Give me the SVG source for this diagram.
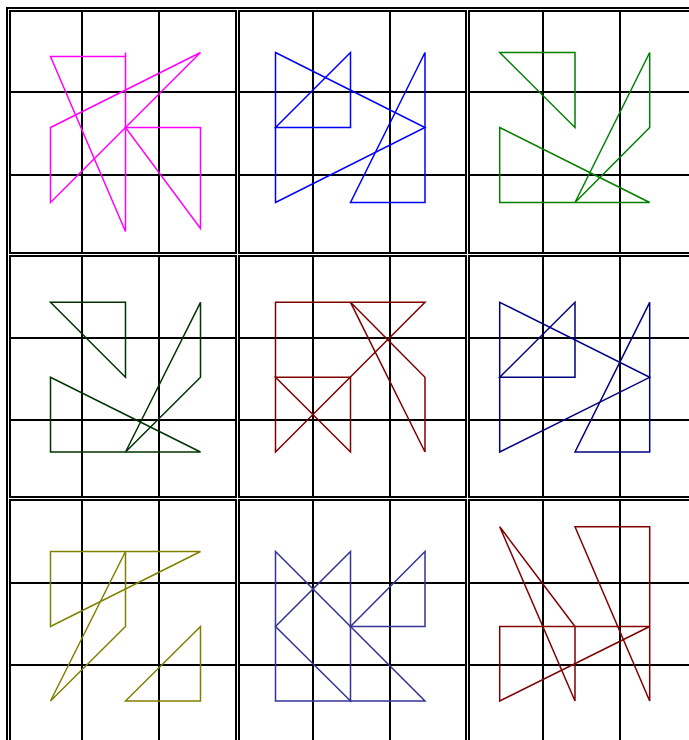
<svg xmlns="http://www.w3.org/2000/svg" width="689" height="740" viewBox="0 0 689 740">
<style>
.g{fill:none;stroke:#000;stroke-width:2}
.s{fill:none;stroke-width:1.5;stroke-linejoin:miter}
</style>
<rect width="689" height="740" fill="#fff"/>
<g id="frame" class="g">
<line x1="7" y1="7" x2="7" y2="740"/>
<line x1="6" y1="8" x2="689" y2="8"/>
</g>
<g id="grids" class="g">
<!-- row A -->
<rect x="10" y="11" width="226" height="242"/>
<path d="M82,11V253M159,11V253M10,92H236M10,175H236"/>
<rect x="239" y="11" width="227" height="242"/>
<path d="M313,11V253M390,11V253M239,92H466M239,175H466"/>
<rect x="469" y="11" width="227" height="242"/>
<path d="M543,11V253M620,11V253M469,92H696M469,175H696"/>
<!-- row B -->
<rect x="10" y="256" width="226" height="241"/>
<path d="M82,256V497M159,256V497M10,338H236M10,420H236"/>
<rect x="239" y="256" width="227" height="241"/>
<path d="M313,256V497M390,256V497M239,338H466M239,420H466"/>
<rect x="469" y="256" width="227" height="241"/>
<path d="M543,256V497M620,256V497M469,338H696M469,420H696"/>
<!-- row C -->
<rect x="10" y="500" width="226" height="243"/>
<path d="M82,500V743M159,500V743M10,583H236M10,665H236"/>
<rect x="239" y="500" width="227" height="243"/>
<path d="M313,500V743M390,500V743M239,583H466M239,665H466"/>
<rect x="469" y="500" width="227" height="243"/>
<path d="M543,500V743M620,500V743M469,583H696M469,665H696"/>
</g>
<g id="cell-1-1" class="s" stroke="#ff00ff">
<path d="M125.5,52.5V231.5L50.5,56.5H125.5"/>
<path d="M50.5,127.5L200.5,52.5L50.5,202.5Z"/>
<path d="M125.5,127.5H200.5V228.5Z"/>
</g>
<g id="cell-1-2" class="s" stroke="#0000ff">
<path d="M275.5,127.5L350.5,52.5V127.5Z"/>
<path d="M275.5,52.5L425,127.5L275.5,202.5Z"/>
<path d="M425,52.5L350.5,202.5H425Z"/>
</g>
<g id="cell-1-3" class="s" stroke="#008000">
<path d="M499.7,52.5H575V127.5Z"/>
<path d="M499.7,127.5V202.5H649.7Z"/>
<path d="M575,202.5L649.7,52.5V127.5Z"/>
</g>
<g id="cell-2-1" class="s" stroke="#003300">
<path d="M50.5,302.3H125.5V377.3Z"/>
<path d="M50.5,377.3V452H200.5Z"/>
<path d="M125.5,452L200.5,302.3V377.3Z"/>
</g>
<g id="cell-2-2" class="s" stroke="#800000">
<path d="M275.5,452L425,302.3H275.5Z"/>
<path d="M275.5,377.3H350.5V452Z"/>
<path d="M350.5,302.3L425,377.3V452Z"/>
</g>
<g id="cell-2-3" class="s" stroke="#000080">
<path d="M499.7,377.3L575,302.3V377.3Z"/>
<path d="M499.7,302.3L649.7,377.3L499.7,452Z"/>
<path d="M649.7,302.3L575,452H649.7Z"/>
</g>
<g id="cell-3-1" class="s" stroke="#808000">
<path d="M50.5,551.5H200.5L50.5,626.5Z"/>
<path d="M125.5,551.5V626.5L50.5,701Z"/>
<path d="M125.5,701L200.5,626.5V701Z"/>
</g>
<g id="cell-3-2" class="s" stroke="#333399">
<path d="M275.5,551.5V701H425Z"/>
<path d="M350.5,551.5L275.5,626.5L350.5,701Z"/>
<path d="M425,551.5L350.5,626.5H425Z"/>
</g>
<g id="cell-3-3" class="s" stroke="#800000">
<path d="M499.7,526.7L575,626.5V701Z"/>
<path d="M499.7,626.5H649.7L499.7,701Z"/>
<path d="M575,526.7H649.7V701Z"/>
</g>
</svg>
